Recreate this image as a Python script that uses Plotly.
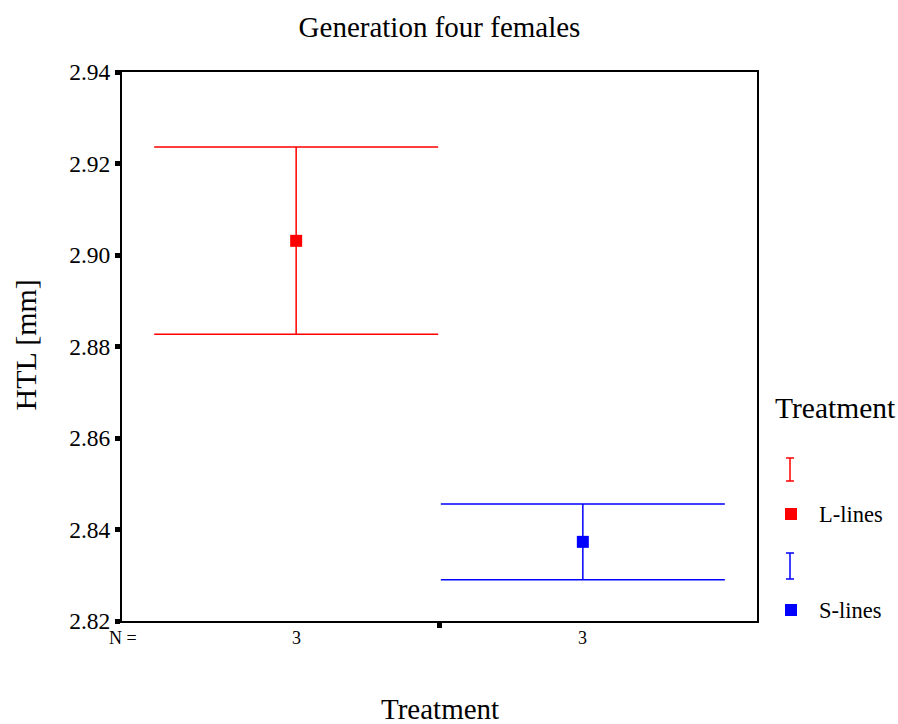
import plotly.graph_objects as go

# Group means of HTL with their standard-error limits
categories = ["L-lines", "S-lines"]
means = [2.9031, 2.8373]
upper = [2.9236, 2.8456]
lower = [2.8827, 2.8290]
counts = [3, 3]
colors = ["#ff0000", "#0000ff"]

y_ticks = [2.82, 2.84, 2.86, 2.88, 2.90, 2.92, 2.94]

W, H = 898, 724
L, R, T, B = 122, 141, 72, 103
PW, PH = W - L - R, H - T - B

FONT = "Liberation Serif"


def px(x):
    return (x - L) / PW


def py(y):
    return 1 - (y - T) / PH


fig = go.Figure()
xs = list(range(len(categories)))
for i, cat in enumerate(categories):
    fig.add_trace(go.Scatter(
        x=[xs[i]], y=[means[i]], mode="markers", name=cat,
        marker=dict(symbol="square", size=12, color=colors[i]),
        error_y=dict(type="data", symmetric=False,
                     array=[upper[i] - means[i]],
                     arrayminus=[means[i] - lower[i]],
                     color=colors[i], thickness=1.5, width=142),
        showlegend=False,
    ))

annotations = []
# group sizes under each category
annotations.append(dict(x=0, xref="paper", y=0, yref="paper", xshift=1, yshift=-17,
                        text="N =", showarrow=False, font=dict(family=FONT, size=18, color="black"),
                        xanchor="center", yanchor="middle"))
for i, n in enumerate(counts):
    annotations.append(dict(x=xs[i], xref="x", y=0, yref="paper", yshift=-17,
                            text=str(n), showarrow=False,
                            font=dict(family=FONT, size=18, color="black"),
                            xanchor="center", yanchor="middle"))

# axis titles
annotations.append(dict(x=0.5, xref="paper", y=0, yref="paper", yshift=-88,
                        text="Treatment", showarrow=False,
                        font=dict(family=FONT, size=29, color="black"),
                        xanchor="center", yanchor="middle"))
annotations.append(dict(x=0, xref="paper", y=py(345.5), yref="paper", xshift=-97,
                        text="HTL [mm]", textangle=-90, showarrow=False,
                        font=dict(family=FONT, size=30, color="black"),
                        xanchor="center", yanchor="middle"))

# legend block
shapes = []
annotations.append(dict(x=px(773), xref="paper", y=py(408), yref="paper",
                        text="Treatment", showarrow=False, xanchor="left", yanchor="middle",
                        font=dict(family=FONT, size=29.5, color="black")))
legend_rows = [(458, 481, 514), (553, 579, 610)]
for i, cat in enumerate(categories):
    y0, y1, ym = legend_rows[i]
    c = colors[i]
    line = dict(color=c, width=1.5)
    shapes.append(dict(type="line", xref="paper", yref="paper",
                       x0=px(790), x1=px(790), y0=py(y0), y1=py(y1), line=line))
    for yy in (y0, y1):
        shapes.append(dict(type="line", xref="paper", yref="paper",
                           x0=px(786), x1=px(794), y0=py(yy), y1=py(yy), line=line))
    shapes.append(dict(type="rect", xref="paper", yref="paper",
                       x0=px(785), x1=px(797), y0=py(ym - 6), y1=py(ym + 6),
                       line=dict(width=0), fillcolor=c))
    annotations.append(dict(x=px(817), xref="paper", y=py(ym), yref="paper",
                            text=cat, showarrow=False, xanchor="left", yanchor="middle",
                            font=dict(family=FONT, size=22.5, color="black")))

fig.update_layout(
    width=W, height=H,
    margin=dict(l=L, r=R, t=T, b=B),
    paper_bgcolor="white", plot_bgcolor="white",
    font=dict(family=FONT, color="black"),
    title=dict(text="Generation four females", x=(L + PW / 2) / W, xanchor="center",
               y=1 - 27 / H, yanchor="middle",
               font=dict(family=FONT, size=29, color="black")),
    xaxis=dict(range=[-0.6075, 1.6075], tickmode="array", tickvals=[0.5], ticktext=[""],
               ticks="outside", ticklen=5, tickwidth=5, tickcolor="black",
               showline=True, linecolor="black", linewidth=2, mirror=True,
               showgrid=False, zeroline=False),
    yaxis=dict(range=[2.82, 2.94], tickmode="array", tickvals=y_ticks,
               ticktext=[f"{v:.2f}" for v in y_ticks],
               ticks="outside", ticklen=5, tickwidth=5, tickcolor="black",
               tickfont=dict(family=FONT, size=23.5, color="black"),
               showline=True, linecolor="black", linewidth=2, mirror=True,
               showgrid=False, zeroline=False),
    annotations=annotations,
    shapes=shapes,
    showlegend=False,
)

fig.write_html("out.html")
